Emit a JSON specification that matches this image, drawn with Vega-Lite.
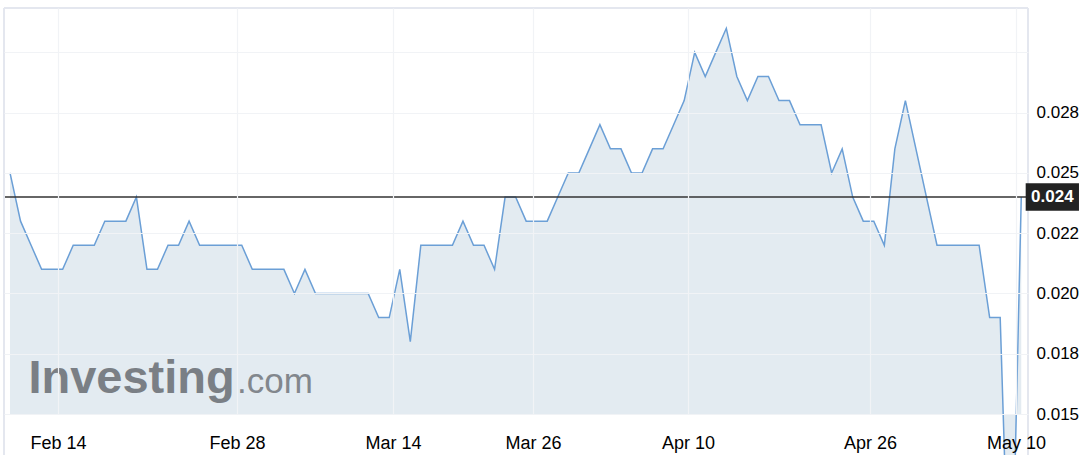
{
  "$schema": "https://vega.github.io/schema/vega-lite/v6.json",
  "width": 1024,
  "height": 406,
  "autosize": {"type": "none"},
  "padding": {"left": 4, "top": 8, "right": 60, "bottom": 41},
  "background": "white",
  "config": {
    "view": {"stroke": null},
    "font": "Liberation Sans"
  },
  "datasets": {
    "prices": [
      {"i": 0, "price": 0.025}, {"i": 1, "price": 0.023}, {"i": 2, "price": 0.022}, {"i": 3, "price": 0.021},
      {"i": 4, "price": 0.021}, {"i": 5, "price": 0.021}, {"i": 6, "price": 0.022}, {"i": 7, "price": 0.022},
      {"i": 8, "price": 0.022}, {"i": 9, "price": 0.023}, {"i": 10, "price": 0.023}, {"i": 11, "price": 0.023},
      {"i": 12, "price": 0.024}, {"i": 13, "price": 0.021}, {"i": 14, "price": 0.021}, {"i": 15, "price": 0.022},
      {"i": 16, "price": 0.022}, {"i": 17, "price": 0.023}, {"i": 18, "price": 0.022}, {"i": 19, "price": 0.022},
      {"i": 20, "price": 0.022}, {"i": 21, "price": 0.022}, {"i": 22, "price": 0.022}, {"i": 23, "price": 0.021},
      {"i": 24, "price": 0.021}, {"i": 25, "price": 0.021}, {"i": 26, "price": 0.021}, {"i": 27, "price": 0.020},
      {"i": 28, "price": 0.021}, {"i": 29, "price": 0.020}, {"i": 30, "price": 0.020}, {"i": 31, "price": 0.020},
      {"i": 32, "price": 0.020}, {"i": 33, "price": 0.020}, {"i": 34, "price": 0.020}, {"i": 35, "price": 0.019},
      {"i": 36, "price": 0.019}, {"i": 37, "price": 0.021}, {"i": 38, "price": 0.018}, {"i": 39, "price": 0.022},
      {"i": 40, "price": 0.022}, {"i": 41, "price": 0.022}, {"i": 42, "price": 0.022}, {"i": 43, "price": 0.023},
      {"i": 44, "price": 0.022}, {"i": 45, "price": 0.022}, {"i": 46, "price": 0.021}, {"i": 47, "price": 0.024},
      {"i": 48, "price": 0.024}, {"i": 49, "price": 0.023}, {"i": 50, "price": 0.023}, {"i": 51, "price": 0.023},
      {"i": 52, "price": 0.024}, {"i": 53, "price": 0.025}, {"i": 54, "price": 0.025}, {"i": 55, "price": 0.026},
      {"i": 56, "price": 0.027}, {"i": 57, "price": 0.026}, {"i": 58, "price": 0.026}, {"i": 59, "price": 0.025},
      {"i": 60, "price": 0.025}, {"i": 61, "price": 0.026}, {"i": 62, "price": 0.026}, {"i": 63, "price": 0.027},
      {"i": 64, "price": 0.028}, {"i": 65, "price": 0.030}, {"i": 66, "price": 0.029}, {"i": 67, "price": 0.030},
      {"i": 68, "price": 0.031}, {"i": 69, "price": 0.029}, {"i": 70, "price": 0.028}, {"i": 71, "price": 0.029},
      {"i": 72, "price": 0.029}, {"i": 73, "price": 0.028}, {"i": 74, "price": 0.028}, {"i": 75, "price": 0.027},
      {"i": 76, "price": 0.027}, {"i": 77, "price": 0.027}, {"i": 78, "price": 0.025}, {"i": 79, "price": 0.026},
      {"i": 80, "price": 0.024}, {"i": 81, "price": 0.023}, {"i": 82, "price": 0.023}, {"i": 83, "price": 0.022},
      {"i": 84, "price": 0.026}, {"i": 85, "price": 0.028}, {"i": 86, "price": 0.026}, {"i": 87, "price": 0.024},
      {"i": 88, "price": 0.022}, {"i": 89, "price": 0.022}, {"i": 90, "price": 0.022}, {"i": 91, "price": 0.022},
      {"i": 92, "price": 0.022}, {"i": 93, "price": 0.019}, {"i": 94, "price": 0.019}, {"i": 95, "price": 0.005},
      {"i": 96, "price": 0.024}
    ],
    "one": [{"last": 0.024}]
  },
  "data": {"name": "prices"},
  "layer": [
    {
      "mark": {"type": "area", "color": "#e3ebf1", "clip": false},
      "encoding": {
        "x": {
          "field": "i", "type": "quantitative",
          "scale": {"domain": [-0.57, 96.64], "nice": false, "zero": false},
          "axis": {
            "title": null, "domain": false, "ticks": false, "zindex": 1,
            "values": [4.556, 21.55, 36.36, 49.65, 64.36, 81.64, 95.5],
            "labelExpr": "datum.value < 10 ? 'Feb 14' : datum.value < 30 ? 'Feb 28' : datum.value < 40 ? 'Mar 14' : datum.value < 55 ? 'Mar 26' : datum.value < 70 ? 'Apr 10' : datum.value < 90 ? 'Apr 26' : 'May 10'",
            "labelFont": "Liberation Sans", "labelFontSize": 18, "labelColor": "#000000",
            "labelPadding": 20, "labelFlush": false, "labelOverlap": false,
            "grid": true, "gridColor": "#f1f3f6", "gridWidth": 1.2
          }
        },
        "y": {
          "field": "price", "type": "quantitative",
          "scale": {"domain": [0.015, 0.031842], "nice": false, "zero": false},
          "axis": {
            "title": null, "orient": "right", "domain": false, "ticks": false, "zindex": 1,
            "values": [0.015, 0.0175, 0.02, 0.0225, 0.025, 0.0275, 0.03],
            "labelExpr": "datum.value > 0.029 ? '' : format(datum.value, '.3f')",
            "labelFont": "Liberation Sans", "labelFontSize": 17, "labelColor": "#000000",
            "labelPadding": 8, "labelAlign": "left", "labelBaseline": "middle",
            "grid": true, "gridColor": "#f1f3f6", "gridWidth": 1.2
          }
        },
        "y2": {"datum": 0.015}
      }
    },
    {
      "mark": {"type": "line", "color": "#6b9fd6", "strokeWidth": 1.5, "clip": false},
      "encoding": {
        "x": {"field": "i", "type": "quantitative"},
        "y": {"field": "price", "type": "quantitative"}
      }
    },
    {
      "data": {"name": "one"},
      "mark": {"type": "text", "text": "Investing", "font": "Liberation Sans", "fontWeight": "bold", "fontSize": 47, "fill": "#7a7f85", "align": "left", "baseline": "alphabetic"},
      "encoding": {
        "x": {"datum": 1.75},
        "y": {"datum": 0.01587}
      }
    },
    {
      "data": {"name": "one"},
      "mark": {"type": "text", "text": ".com", "font": "Liberation Sans", "fontSize": 35, "fill": "#82878d", "align": "left", "baseline": "alphabetic"},
      "encoding": {
        "x": {"datum": 21.55},
        "y": {"datum": 0.01587}
      }
    },
    {
      "data": {"name": "one"},
      "mark": {"type": "rule", "color": "#333333", "strokeWidth": 1.5},
      "encoding": {"y": {"field": "last", "type": "quantitative"}}
    },
    {
      "data": {"name": "one"},
      "mark": {"type": "rule", "color": "#e4e7ef", "strokeWidth": 2},
      "encoding": {"y": {"datum": 0.031842}}
    },
    {
      "data": {"name": "one"},
      "mark": {"type": "rule", "color": "#e4e7ef", "strokeWidth": 2, "clip": false},
      "encoding": {"x": {"datum": -0.57}, "y": {"datum": 0.031842}, "y2": {"datum": 0.0131}}
    },
    {
      "data": {"name": "one"},
      "mark": {"type": "rule", "color": "#e4e7ef", "strokeWidth": 2, "clip": false},
      "encoding": {"x": {"datum": 96.64}, "y": {"datum": 0.031842}, "y2": {"datum": 0.0131}}
    },
    {
      "data": {"name": "one"},
      "mark": {"type": "rect", "fill": "#222222", "clip": false},
      "encoding": {
        "x": {"datum": 96.42}, "x2": {"datum": 101.48},
        "y": {"datum": 0.02457}, "y2": {"datum": 0.023433}
      }
    },
    {
      "data": {"name": "one"},
      "mark": {"type": "text", "font": "Liberation Sans", "fontWeight": "bold", "fontSize": 17, "fill": "#ffffff", "align": "center", "baseline": "middle", "clip": false},
      "encoding": {
        "x": {"datum": 98.95},
        "y": {"field": "last", "type": "quantitative"},
        "text": {"field": "last", "type": "quantitative", "format": ".3f"}
      }
    }
  ]
}
